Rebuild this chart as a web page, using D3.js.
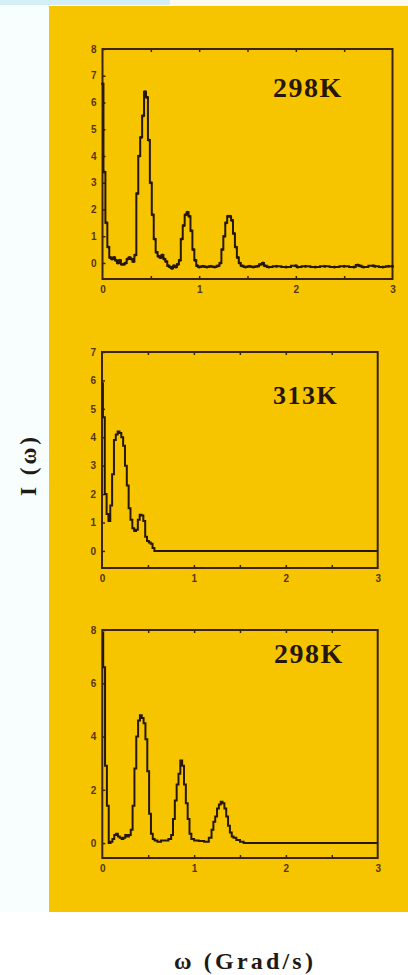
<!DOCTYPE html>
<html>
<head>
<meta charset="utf-8">
<script src="https://cdn.jsdelivr.net/npm/d3@7"></script>
<style>
  html, body { margin: 0; padding: 0; background: #ffffff; }
  svg { display: block; }
</style>
</head>
<body>
<script>
// Spectral density I(ω) at three temperatures, ω in Grad/s

// Panel A — 298 K (top)
const omegaA = [0.00,0.02,0.04,0.06,0.08,0.10,0.12,0.14,0.16,0.18,0.20,0.22,0.24,0.26,0.28,0.30,0.32,0.34,0.36,0.38,0.40,0.42,0.44,0.46,0.48,0.50,0.52,0.54,0.56,0.58,0.60,0.62,0.64,0.66,0.68,0.70,0.72,0.74,0.76,0.78,0.80,0.82,0.84,0.86,0.88,0.90,0.92,0.94,0.96,0.98,1.00,1.04,1.08,1.12,1.16,1.20,1.22,1.24,1.26,1.28,1.30,1.32,1.34,1.36,1.38,1.40,1.42,1.44,1.48,1.52,1.56,1.60,1.64,1.66,1.68,1.72,1.80,1.90,2.00,2.02,2.10,2.20,2.30,2.40,2.50,2.60,2.64,2.66,2.70,2.80,2.82,2.90,2.96,3.00];
const intensityA = [6.7,3.4,1.5,0.6,0.2,0.15,0.2,0.1,0.0,0.1,-0.05,-0.05,0.0,0.15,0.2,0.15,0.05,0.3,2.6,4.0,4.7,5.5,6.4,6.2,4.6,3.0,1.8,0.9,0.4,0.25,0.2,0.3,0.15,0.05,-0.1,-0.15,-0.2,-0.1,-0.15,-0.05,0.1,0.9,1.4,1.8,1.9,1.75,1.2,0.5,0.1,-0.1,-0.15,-0.12,-0.15,-0.12,-0.15,-0.1,0.0,0.5,1.0,1.5,1.75,1.75,1.6,1.1,0.6,0.2,0.0,-0.1,-0.15,-0.12,-0.15,-0.12,-0.05,0.0,-0.1,-0.15,-0.12,-0.15,-0.1,-0.15,-0.12,-0.15,-0.12,-0.15,-0.12,-0.15,-0.08,-0.1,-0.15,-0.1,-0.12,-0.15,-0.12,-0.12];
const ticksA = [0,1,2,3,4,5,6,7,8];

// Panel B — 313 K (middle)
const omegaB = [0.00,0.02,0.04,0.06,0.08,0.10,0.12,0.14,0.16,0.18,0.20,0.22,0.24,0.26,0.28,0.30,0.32,0.34,0.36,0.38,0.40,0.42,0.44,0.46,0.48,0.50,0.52,0.54,0.56,0.58,0.60,1.00,1.50,2.00,2.50,3.00];
const intensityB = [5.9,4.7,2.0,1.3,1.05,1.6,2.7,3.9,4.1,4.2,4.15,4.0,3.7,3.0,2.3,1.5,1.1,0.8,0.7,0.75,1.1,1.27,1.25,1.05,0.5,0.35,0.3,0.25,0.1,0.0,0.0,0.0,0.0,0.0,0.0,0.0];
const ticksB = [0,1,2,3,4,5,6,7];

// Panel C — 298 K (bottom)
const omegaC = [0.00,0.02,0.04,0.06,0.08,0.10,0.12,0.14,0.16,0.18,0.20,0.22,0.24,0.26,0.28,0.30,0.32,0.34,0.36,0.38,0.40,0.42,0.44,0.46,0.48,0.50,0.52,0.54,0.56,0.58,0.62,0.66,0.70,0.74,0.76,0.78,0.80,0.82,0.84,0.86,0.88,0.90,0.92,0.94,0.96,0.98,1.02,1.08,1.14,1.18,1.20,1.22,1.24,1.26,1.28,1.30,1.32,1.34,1.36,1.38,1.40,1.42,1.44,1.48,1.52,1.56,2.00,2.50,3.00];
const intensityC = [7.9,6.6,2.9,1.4,0.0,0.05,0.15,0.3,0.35,0.25,0.2,0.15,0.2,0.3,0.25,0.3,0.5,1.4,2.8,4.0,4.6,4.8,4.7,4.5,3.9,2.7,1.1,0.35,0.15,0.1,0.05,0.1,0.1,0.15,0.3,0.9,1.6,2.2,2.6,3.1,2.9,2.2,1.5,0.9,0.35,0.15,0.1,0.08,0.05,0.2,0.5,0.8,1.0,1.3,1.45,1.55,1.5,1.3,1.0,0.65,0.4,0.25,0.2,0.12,0.05,0.0,0.0,0.0,0.0];
const ticksC = [0,2,4,6,8];

const xTickLabels = [0,1,2,3];
const xMinorTicks = [0.5,1,1.5,2,2.5];
const temperatures = ["298K","313K","298K"];

const W = 408, H = 975;
const svg = d3.select("body").append("svg").attr("width", W).attr("height", H);

// page backdrop
svg.append("rect").attr("width", W).attr("height", H).attr("fill", "#ffffff");
svg.append("rect").attr("x", 0).attr("y", 0).attr("width", 49).attr("height", 912).attr("fill", "#f8fdfd");
svg.append("rect").attr("x", 0).attr("y", 0).attr("width", 170).attr("height", 5).attr("fill", "#d4eef6");
svg.append("rect").attr("x", 170).attr("y", 0).attr("width", 238).attr("height", 6).attr("fill", "#fcf9ee");
svg.append("rect").attr("x", 49).attr("y", 6).attr("width", 359).attr("height", 906).attr("fill", "#f7c500");

const panels = [
  { om: omegaA, val: intensityA, ticks: ticksA, label: temperatures[0],
    x0: 102.5, x1: 392.5, yTop: 49, yBot: 279, yMin: -0.6, yMax: 8, labelX: 273, labelY: 97, fs: 28, dots: true },
  { om: omegaB, val: intensityB, ticks: ticksB, label: temperatures[1],
    x0: 102, x1: 377.7, yTop: 352, yBot: 568, yMin: -0.6, yMax: 7, labelX: 273, labelY: 404, fs: 26, dots: false },
  { om: omegaC, val: intensityC, ticks: ticksC, label: temperatures[2],
    x0: 102.3, x1: 377.7, yTop: 630, yBot: 858, yMin: -0.56, yMax: 8, labelX: 274, labelY: 663, fs: 28, dots: false }
];

const ink = "#26170a";
const frameInk = "#3a2411";
const tickInk = "#553510";

panels.forEach(p => {
  const x = d3.scaleLinear().domain([0, 3]).range([p.x0, p.x1]);
  const y = d3.scaleLinear().domain([p.yMin, p.yMax]).range([p.yBot, p.yTop]);
  const g = svg.append("g");

  // inward y ticks with labels on the left
  const yAxis = d3.axisLeft(y).tickValues(p.ticks).tickSize(-3).tickPadding(6).tickFormat(d3.format("d"));
  const ya = g.append("g").attr("transform", `translate(${p.x0},0)`).call(yAxis);
  ya.select(".domain").remove();
  ya.selectAll("line").attr("stroke", frameInk).attr("stroke-width", 1.5);
  ya.selectAll("text").attr("fill", tickInk).attr("font-family", "Liberation Sans, Arial, sans-serif")
    .attr("font-weight", "bold").attr("font-size", 10);

  // inward x ticks on bottom and top
  const xb = d3.axisBottom(x).tickValues(xMinorTicks).tickSize(-3).tickFormat("");
  const xbg = g.append("g").attr("transform", `translate(0,${p.yBot})`).call(xb);
  xbg.select(".domain").remove();
  xbg.selectAll("line").attr("stroke", frameInk).attr("stroke-width", 1.5);
  const xt = d3.axisTop(x).tickValues(xMinorTicks).tickSize(-3).tickFormat("");
  const xtg = g.append("g").attr("transform", `translate(0,${p.yTop})`).call(xt);
  xtg.select(".domain").remove();
  xtg.selectAll("line").attr("stroke", frameInk).attr("stroke-width", 1.5);

  // x tick labels below the frame
  const xl = d3.axisBottom(x).tickValues(xTickLabels).tickSize(0).tickPadding(7).tickFormat(d3.format("d"));
  const xlg = g.append("g").attr("transform", `translate(0,${p.yBot})`).call(xl);
  xlg.select(".domain").remove();
  xlg.selectAll("text").attr("fill", tickInk).attr("font-family", "Liberation Sans, Arial, sans-serif")
    .attr("font-weight", "bold").attr("font-size", 10);

  // frame
  g.append("rect").attr("x", p.x0).attr("y", p.yTop)
    .attr("width", p.x1 - p.x0).attr("height", p.yBot - p.yTop)
    .attr("fill", "none").attr("stroke", frameInk).attr("stroke-width", 2);

  // stepped spectrum
  const pts = p.om.map((o, i) => [o, p.val[i]]);
  const line = d3.line().x(d => x(d[0])).y(d => y(d[1])).curve(d3.curveStep);
  g.append("path").datum(pts).attr("d", line)
    .attr("fill", "none").attr("stroke", ink).attr("stroke-width", 2).attr("stroke-linejoin", "miter");

  if (p.dots) {
    g.selectAll("circle.pt").data(pts).join("circle").attr("class", "pt")
      .attr("cx", d => x(d[0])).attr("cy", d => y(d[1])).attr("r", 1.5).attr("fill", ink);
  }

  // temperature tag
  g.append("text").attr("x", p.labelX).attr("y", p.labelY)
    .attr("font-family", "Liberation Serif, Times New Roman, serif")
    .attr("font-size", p.fs).attr("font-weight", "bold")
    .attr("letter-spacing", 1.5)
    .attr("fill", ink).text(p.label);
});

// axis titles
svg.append("text").attr("transform", "translate(36,465) rotate(-90)")
  .attr("text-anchor", "middle").attr("font-family", "Liberation Serif, Times New Roman, serif")
  .attr("font-weight", "bold").attr("font-size", 23).attr("letter-spacing", 3)
  .attr("fill", "#1e1a16").text("I (ω)");

svg.append("text").attr("x", 245).attr("y", 969)
  .attr("text-anchor", "middle").attr("font-family", "Liberation Serif, Times New Roman, serif")
  .attr("font-weight", "bold").attr("font-size", 24).attr("letter-spacing", 3.2)
  .attr("fill", "#1e1a16").text("ω (Grad/s)");
</script>
</body>
</html>
